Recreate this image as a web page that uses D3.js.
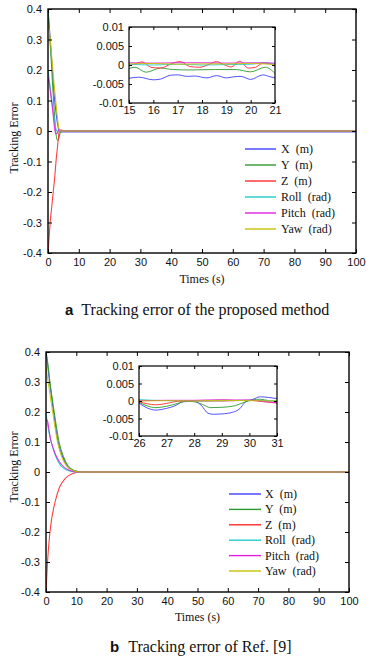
<!DOCTYPE html>
<html>
<head>
<meta charset="utf-8">
<script src="https://cdn.jsdelivr.net/npm/d3@7"></script>
<style>
  body { margin: 0; background: #fff; }
  svg { display: block; }
  .legend-text { white-space: pre; }
</style>
</head>
<body>
<div id="chart"></div>
<script>
// legend names and colours (same order for both panels)
const seriesNames = ["X  (m)", "Y  (m)", "Z  (m)", "Roll  (rad)", "Pitch  (rad)", "Yaw  (rad)"];
const seriesColors = ["#4040ff", "#2e9a2e", "#ff2a2a", "#22cccc", "#e020e0", "#c8c200"];

const mainXTicks = [0, 10, 20, 30, 40, 50, 60, 70, 80, 90, 100];
const mainYTicks = [-0.4, -0.3, -0.2, -0.1, 0, 0.1, 0.2, 0.3, 0.4];
const insetYTicks = [-0.01, -0.005, 0, 0.005, 0.01];
const insetAXTicks = [15, 16, 17, 18, 19, 20, 21];
const insetBXTicks = [26, 27, 28, 29, 30, 31];

// panel a : proposed method, [time, error]
const aX = [[0, 0.4], [0.5, 0.33], [1, 0.26], [1.5, 0.19], [2, 0.12], [2.5, 0.07], [3, 0.03], [3.5, 0.005], [4, -0.002], [5, -0.003], [100, -0.003]];
const aY = [[0, 0.4], [0.5, 0.32], [1, 0.24], [1.5, 0.15], [2, 0.07], [2.5, 0.0], [3, -0.03], [3.5, -0.025], [4, -0.005], [5, 0], [100, 0]];
const aZ = [[0, -0.4], [0.35, -0.35], [0.7, -0.3], [1.2, -0.25], [1.7, -0.2], [2.2, -0.15], [2.6, -0.1], [3.1, -0.05], [3.7, 0], [4.2, 0.004], [5, 0], [100, 0]];
const aRoll = [[0, 0.2], [0.5, 0.16], [1, 0.12], [1.5, 0.08], [2, 0.04], [2.5, 0.01], [3, 0], [5, 0], [100, 0]];
const aPitch = [[0, 0.175], [0.5, 0.15], [1, 0.11], [1.5, 0.07], [2, 0.02], [2.5, -0.01], [3, -0.008], [3.5, 0.005], [4, 0], [100, 0]];
const aYaw = [[0, 0.35], [0.5, 0.32], [1, 0.27], [1.5, 0.21], [2, 0.15], [2.5, 0.1], [3, 0.05], [3.5, 0.01], [4, 0], [5, 0], [100, 0]];

// panel a zoom window 15..21 s
const aInX = [[15, -0.0035], [15.4, -0.0032], [16.0, -0.0039], [16.3, -0.0037], [16.7, -0.0027], [17.0, -0.0026], [17.4, -0.003], [17.7, -0.0029], [18.2, -0.0034], [18.6, -0.0028], [19.0, -0.0034], [19.3, -0.0031], [19.6, -0.003], [20.0, -0.0038], [20.5, -0.0026], [20.8, -0.0031], [21, -0.0034]];
const aInY = [[15, -0.0009], [15.25, -0.0006], [15.7, -0.0019], [16.3, -0.0008], [16.8, -0.0012], [17.5, -0.0013], [18.5, -0.0012], [19.4, -0.0012], [20, -0.0018], [20.6, -0.0006], [21, -0.0022]];
const aInZ = [[15, -0.0002], [15.3, 0.0004], [15.55, 0.0008], [15.9, -0.0006], [16.3, -0.0008], [16.7, 0.0002], [17.1, 0.0009], [17.5, -0.0004], [17.9, -0.0006], [18.3, 0.0002], [18.6, 0.0009], [18.9, 0.0001], [19.2, -0.0005], [19.55, 0.001], [19.9, -0.0008], [20.2, -0.0006], [20.5, 0.0005], [20.8, 0.0003], [21, -0.0004]];
const aInRoll = [[15, 0.0002], [16, 0.0], [17, 0.0002], [18, 0.0], [19, 0.0001], [20, 0.0002], [20.6, 0.0006], [21, 0.0002]];
const aInPitch = [[15, 0.0006], [16, 0.0005], [17, 0.0006], [18, 0.0006], [19, 0.0005], [20, 0.0006], [21, 0.0005]];
const aInYaw = [[15, 0.0003], [16, 0.0004], [17, 0.0002], [18, 0.0003], [19, 0.0003], [20, 0.0004], [21, 0.0001]];

// panel b : Ref. [9]
const bX = [[0, 0.4], [0.5, 0.36], [1.2, 0.3], [2.5, 0.2], [4, 0.1], [5.5, 0.05], [7, 0.02], [9, 0.005], [12, 0], [100, 0]];
const bY = [[0, 0.4], [0.5, 0.37], [1.3, 0.3], [2.7, 0.2], [4.3, 0.1], [5.8, 0.05], [7.3, 0.02], [9.3, 0.005], [12, 0], [100, 0]];
const bZ = [[0, -0.4], [0.5, -0.3], [1.3, -0.2], [3, -0.1], [4.5, -0.05], [6.5, -0.02], [9, -0.005], [11, 0], [100, 0]];
const bRoll = [[0, 0.2], [0.5, 0.16], [1, 0.13], [2, 0.09], [3.5, 0.045], [5, 0.02], [7, 0.006], [10, 0], [100, 0]];
const bPitch = [[0, 0.175], [0.5, 0.17], [1, 0.14], [1.5, 0.11], [2.5, 0.075], [3.5, 0.05], [5.5, 0.02], [8, 0.005], [10, 0], [100, 0]];
const bYaw = [[0, 0.35], [0.7, 0.3], [2.2, 0.2], [3.8, 0.1], [5.2, 0.05], [6.8, 0.02], [9, 0.005], [11, 0], [100, 0]];

// panel b zoom window 26..31 s
const bInX = [[26, -0.0006], [26.3, -0.002], [26.6, -0.0026], [27.0, -0.0021], [27.3, -0.0014], [27.6, -0.0002], [28.0, -0.0001], [28.25, -0.0012], [28.5, -0.0035], [28.7, -0.0038], [29.0, -0.0037], [29.4, -0.0032], [29.65, -0.0022], [29.85, -0.0003], [30.1, 0.0004], [30.4, 0.0012], [30.7, 0.001], [31, 0.0007]];
const bInY = [[26, -0.0004], [26.3, -0.0014], [26.6, -0.0019], [27.0, -0.0015], [27.4, -0.0007], [27.7, -0.0001], [28.0, -0.0002], [28.3, -0.001], [28.6, -0.0019], [29.0, -0.0018], [29.5, -0.0013], [29.8, -0.0004], [30.1, 0.0003], [30.4, 0.0005], [30.7, 0.0001], [31, -0.0001]];
const bInZ = [[26, -0.0002], [26.3, -0.0008], [26.6, -0.0011], [27.0, -0.0007], [27.4, -0.0001], [28, 0.0], [29, 0.0], [30, 0.0002], [30.5, -0.0002], [31, -0.0006]];
const bInRoll = [[26, 0.0004], [26.5, 0.0002], [27, 0.0001], [28, 0.0], [29, 0.0001], [30, 0.0002], [31, 0.0]];
const bInPitch = [[26, 0.0001], [27, 0.0002], [28, 0.0002], [29, 0.0004], [29.5, 0.0003], [30, 0.0003], [30.5, -0.0001], [31, -0.0005]];
const bInYaw = [[26, 0.0], [27, 0.0001], [28, 0.0], [29, 0.0002], [30, 0.0001], [31, 0.0]];

const W = 370, H = 658;
const svg = d3.select("#chart").append("svg")
  .attr("width", W)
  .attr("height", H);

const tickFont = "'Liberation Sans', Arial, sans-serif";
const serifFont = "'Liberation Serif', 'Times New Roman', serif";

// box axes with inward ticks on all four sides (matlab style)
function drawBox(g, x, y, xTicks, yTicks, opts) {
  let [x0, x1] = x.range(), [y0, y1] = y.range();
  let tl = opts.tick;
  g.append("g")
    .attr("transform", "translate(0," + y0 + ")")
    .call(d3.axisBottom(x).tickValues(xTicks).tickSizeInner(-tl).tickSizeOuter(0).tickPadding(opts.padX).tickFormat(d => String(d)));
  g.append("g")
    .attr("transform", "translate(0," + y1 + ")")
    .call(d3.axisTop(x).tickValues(xTicks).tickSizeInner(-tl).tickSizeOuter(0).tickFormat(""));
  g.append("g")
    .attr("transform", "translate(" + x0 + ",0)")
    .call(d3.axisLeft(y).tickValues(yTicks).tickSizeInner(-tl).tickSizeOuter(0).tickPadding(opts.padY).tickFormat(d => String(d)));
  g.append("g")
    .attr("transform", "translate(" + x1 + ",0)")
    .call(d3.axisRight(y).tickValues(yTicks).tickSizeInner(-tl).tickSizeOuter(0).tickFormat(""));
  g.selectAll(".domain").remove();
  g.selectAll(".tick line").attr("stroke", "#000").attr("stroke-width", 1);
  g.selectAll(".tick text")
    .attr("font-family", tickFont)
    .attr("font-size", opts.font)
    .attr("fill", "#111");
  g.append("rect")
    .attr("x", x0).attr("y", y1)
    .attr("width", x1 - x0).attr("height", y0 - y1)
    .attr("fill", "none")
    .attr("stroke", "#000")
    .attr("stroke-width", opts.stroke);
}

function drawLines(g, x, y, list, clipId, width) {
  let line = d3.line().x(d => x(d[0])).y(d => y(d[1])).curve(d3.curveMonotoneX);
  g.append("g")
    .attr("clip-path", "url(#" + clipId + ")")
    .selectAll("path")
    .data(list)
    .enter()
    .append("path")
    .attr("d", d => line(d))
    .attr("fill", "none")
    .attr("stroke", (d, i) => seriesColors[i])
    .attr("stroke-width", width)
    .attr("stroke-opacity", 0.9);
}

function addClip(id, x, y) {
  let [x0, x1] = x.range(), [y0, y1] = y.range();
  svg.append("clipPath").attr("id", id)
    .append("rect")
    .attr("x", x0).attr("y", y1 - 1)
    .attr("width", x1 - x0).attr("height", y0 - y1 + 2);
}

function drawPanel(p) {
  let g = svg.append("g");
  let x = d3.scaleLinear().domain([0, 100]).range([p.left, p.right]);
  let y = d3.scaleLinear().domain([-0.4, 0.4]).range([p.bottom, p.top]);

  addClip(p.id + "main", x, y);
  drawLines(g, x, y, p.series, p.id + "main", 1.1);
  drawBox(g, x, y, mainXTicks, mainYTicks, { tick: 4, padX: 5, padY: 6, font: "11.5px", stroke: 1.4 });

  // inset
  let ix = d3.scaleLinear().domain(p.insetDomain).range([p.inset.left, p.inset.right]);
  let iy = d3.scaleLinear().domain([-0.01, 0.01]).range([p.inset.bottom, p.inset.top]);
  g.append("rect")
    .attr("x", p.inset.left).attr("y", p.inset.top)
    .attr("width", p.inset.right - p.inset.left)
    .attr("height", p.inset.bottom - p.inset.top)
    .attr("fill", "#fff");
  addClip(p.id + "inset", ix, iy);
  drawLines(g, ix, iy, p.insetSeries, p.id + "inset", 1);
  drawBox(g, ix, iy, p.insetXTicks, insetYTicks, { tick: 3, padX: 3, padY: 5, font: "11px", stroke: 1.2 });

  // legend
  let lg = g.append("g");
  seriesNames.forEach((name, i) => {
    let yy = p.legend.y0 + i * p.legend.dy;
    lg.append("line")
      .attr("x1", p.legend.x0).attr("x2", p.legend.x1)
      .attr("y1", yy).attr("y2", yy)
      .attr("stroke", seriesColors[i])
      .attr("stroke-width", 1.4);
    lg.append("text")
      .attr("class", "legend-text")
      .attr("x", p.legend.tx).attr("y", yy + 4)
      .attr("font-family", serifFont)
      .attr("font-size", "12px")
      .attr("fill", "#111")
      .text(name);
  });

  // axis titles
  g.append("text")
    .attr("x", (p.left + p.right) / 2).attr("y", p.xlabelY)
    .attr("text-anchor", "middle")
    .attr("font-family", serifFont)
    .attr("font-size", "12px")
    .attr("fill", "#111")
    .text("Times (s)");
  g.append("text")
    .attr("transform", "rotate(-90)")
    .attr("x", -p.ylabelMid).attr("y", 18)
    .attr("text-anchor", "middle")
    .attr("font-family", serifFont)
    .attr("font-size", "12px")
    .attr("fill", "#111")
    .text("Tracking Error");

  // caption
  let cap = g.append("text")
    .attr("x", p.capX).attr("y", p.capY)
    .attr("fill", "#111");
  cap.append("tspan")
    .attr("font-family", tickFont)
    .attr("font-weight", "bold")
    .attr("font-size", "15px")
    .text(p.letter);
  cap.append("tspan")
    .attr("dx", p.capGap)
    .attr("font-family", serifFont)
    .attr("font-size", "16px")
    .text(p.caption);
}

drawPanel({
  id: "a", left: 48, right: 356, top: 9, bottom: 253,
  series: [aX, aY, aZ, aRoll, aPitch, aYaw],
  insetDomain: [15, 21], insetXTicks: insetAXTicks,
  insetSeries: [aInX, aInY, aInZ, aInRoll, aInPitch, aInYaw],
  inset: { left: 129, right: 275, top: 27, bottom: 103 },
  legend: { x0: 245, x1: 276, tx: 281, y0: 149, dy: 16 },
  xlabelY: 283, ylabelMid: 138,
  letter: "a", caption: "Tracking error of the proposed method", capX: 65, capY: 315, capGap: 8
});

drawPanel({
  id: "b", left: 46, right: 349, top: 352, bottom: 592,
  series: [bX, bY, bZ, bRoll, bPitch, bYaw],
  insetDomain: [26, 31], insetXTicks: insetBXTicks,
  insetSeries: [bInX, bInY, bInZ, bInRoll, bInPitch, bInYaw],
  inset: { left: 139, right: 277, top: 366, bottom: 436 },
  legend: { x0: 229, x1: 261, tx: 265, y0: 494, dy: 15.4 },
  xlabelY: 621, ylabelMid: 467,
  letter: "b", caption: "Tracking error of Ref. [9]", capX: 110, capY: 652, capGap: 9
});
</script>
</body>
</html>
